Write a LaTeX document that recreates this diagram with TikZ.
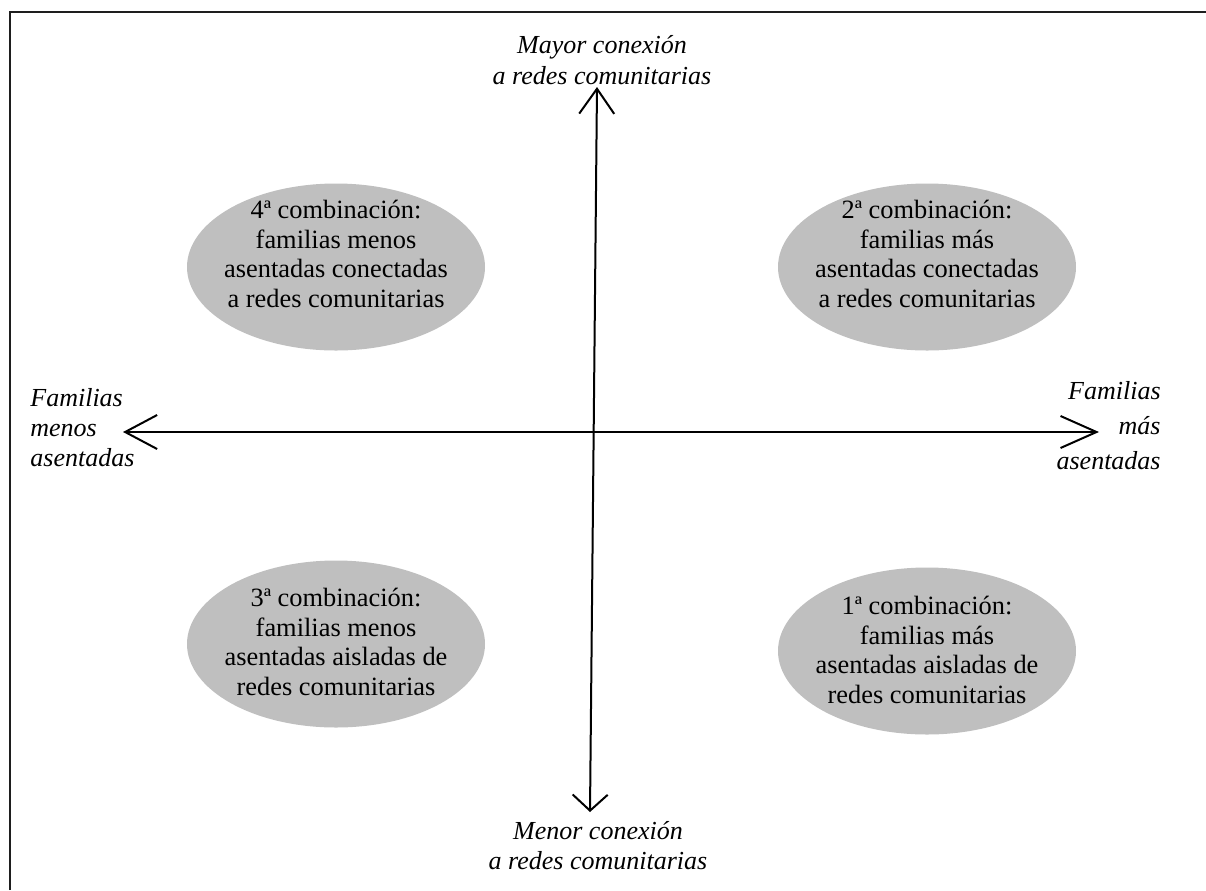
\documentclass[tikz,border=0pt]{standalone}
\usepackage{fontspec}
\setmainfont{Liberation Serif}
\usetikzlibrary{arrows.meta,shapes.geometric}
\definecolor{ellgray}{RGB}{191,191,191}
\definecolor{framegray}{RGB}{30,30,30}
\begin{document}
\begin{tikzpicture}[x=0.5pt,y=-0.5pt,
  combo/.style={ellipse, fill=ellgray, minimum width=149pt, minimum height=83.5pt, inner sep=0pt},
  combotext/.style={align=center, font=\fontsize{13.2}{14.7}\selectfont, inner sep=0pt},
  axislabel/.style={inner sep=0pt},
  axisline/.style={line width=1pt, black}]
\useasboundingbox (0,0) rectangle (1206,890);
\draw[framegray, line width=0.75pt] (10,890) -- (10,12) -- (1206,12);
% ellipses
\node[combo] (e4) at (336,267) {};
\node[combo] (e2) at (927,267) {};
\node[combo] (e3) at (336,644) {};
\node[combo] (e1) at (927,651) {};
\node[combotext] (t4) at (336,254) {4ª combinación:\\familias menos\\asentadas conectadas\\a redes comunitarias};
\node[combotext] (t2) at (927,254) {2ª combinación:\\familias más\\asentadas conectadas\\a redes comunitarias};
\node[combotext] (t3) at (336,642) {3ª combinación:\\familias menos\\asentadas aisladas de\\redes comunitarias};
\node[combotext] (t1) at (927,650) {1ª combinación:\\familias más\\asentadas aisladas de\\redes comunitarias};
% axes
\coordinate (xl) at (123,432);
\coordinate (xr) at (1099,432);
\coordinate (yt) at (597,87);
\coordinate (yb) at (590,812);
\draw[axisline, {Straight Barb[length=16pt,width=17pt]}-{Straight Barb[length=18pt,width=16pt]}] (xl) -- (xr);
\draw[axisline, {Straight Barb[length=12.5pt,width=17.5pt]}-{Straight Barb[length=8pt,width=17.5pt]}] (yt) -- (yb);
% labels
\node[axislabel, align=center, font=\fontsize{13}{15.5}\selectfont\itshape] (ltop) at (602,60) {Mayor conexión\\a redes comunitarias};
\node[axislabel, align=center, font=\fontsize{13}{15}\selectfont\itshape] (lbot) at (598,846) {Menor conexión\\a redes comunitarias};
\node[axislabel, align=left, anchor=west, font=\fontsize{13}{15}\selectfont\itshape] (lleft) at (30,428) {Familias\\menos\\asentadas};
\node[axislabel, align=right, anchor=east, font=\fontsize{13}{17.5}\selectfont\itshape] (lright) at (1161,426) {Familias\\más\\asentadas};
\end{tikzpicture}
\end{document}
